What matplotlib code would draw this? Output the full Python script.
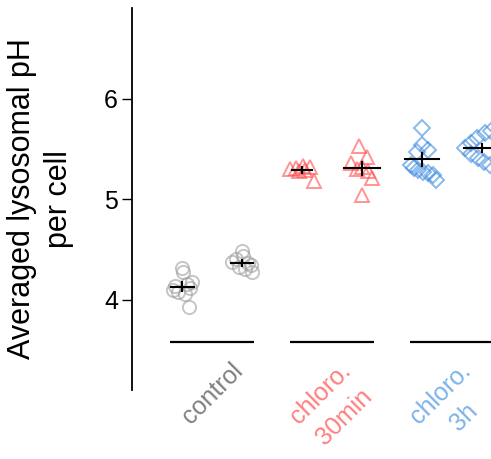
import numpy as np
import matplotlib
matplotlib.use("Agg")
import matplotlib.pyplot as plt

plt.rcParams['font.family'] = ['Liberation Sans', 'DejaVu Sans']

# group labels and colours
group_labels = ['control', 'chloro.\n30min', 'chloro.\n3h']
label_colors = ['#808080', '#ff7f7f', '#7fb3e8']
marker_colors = ['#a0a0a0', '#ff4d4d', '#3d8be0']
group_markers = ['o', '^', 'D']

# per-cell values (two replicates per group)
control_1 = [4.32, 4.28, 4.18, 4.16, 4.14, 4.12, 4.10, 4.08, 4.06, 3.93]
control_1_dx = [0.0, 0.02, 0.17, 0.08, -0.12, 0.13, -0.15, -0.07, 0.05, 0.12]
control_2 = [4.49, 4.44, 4.41, 4.38, 4.37, 4.35, 4.33, 4.31, 4.28]
control_2_dx = [0.0, 0.02, -0.1, -0.17, 0.1, 0.15, -0.05, 0.05, 0.17]
chloro30_1 = [5.33, 5.32, 5.31, 5.30, 5.29, 5.28, 5.18]
chloro30_1_dx = [0.02, 0.13, -0.1, -0.2, 0.05, -0.05, 0.2]
chloro30_2 = [5.53, 5.42, 5.36, 5.32, 5.30, 5.28, 5.21, 5.04]
chloro30_2_dx = [-0.05, 0.08, -0.18, 0.0, -0.08, 0.1, 0.17, 0.0]
chloro3h_1 = [5.71, 5.54, 5.47, 5.49, 5.34, 5.31, 5.29, 5.27, 5.26, 5.24, 5.19]
chloro3h_1_dx = [0.0, 0.0, -0.08, 0.1, -0.18, -0.13, -0.06, 0.02, 0.1, 0.18, 0.23]
chloro3h_2 = [5.68, 5.66, 5.61, 5.56, 5.51, 5.45, 5.41, 5.37, 5.34]
chloro3h_2_dx = [0.15, 0.05, -0.08, -0.18, -0.28, -0.18, -0.07, 0.03, 0.13]

series = [control_1, control_2, chloro30_1, chloro30_2, chloro3h_1, chloro3h_2]
series_dx = [control_1_dx, control_2_dx, chloro30_1_dx, chloro30_2_dx,
             chloro3h_1_dx, chloro3h_2_dx]

# mean and error bar
means = [4.13, 4.37, 5.29, 5.31, 5.40, 5.51]
errors = [0.045, 0.03, 0.03, 0.065, 0.065, 0.04]
mean_half_width = [0.19, 0.18, 0.16, 0.30, 0.29, 0.30]

baseline = 3.58

fig = plt.figure(figsize=(4.91, 4.59), dpi=100)
ax = fig.add_axes([0.2688, 0.1503, 0.7312, 0.8323])

for i, (vals, dx) in enumerate(zip(series, series_dx)):
    g = i // 2
    ax.plot(i + np.array(dx), vals, linestyle='none', marker=group_markers[g],
            markersize=9.5 if g < 2 else 8, markerfacecolor='none',
            markeredgecolor=marker_colors[g], markeredgewidth=1.4, alpha=0.6)
    ax.plot([i - mean_half_width[i], i + mean_half_width[i]], [means[i], means[i]],
            color='black', lw=1.5, zorder=5)
    ax.plot([i, i], [means[i] - errors[i], means[i] + errors[i]],
            color='black', lw=1.5, zorder=5)

# group underline
for g in range(3):
    c = 2 * g + 0.5
    ax.plot([c - 0.7, c + 0.7], [baseline, baseline], color='black', lw=1.6,
            solid_capstyle='butt')

ax.set_xlim(-0.836, 5.15)
ax.set_ylim(3.104, 6.905)
ax.set_yticks([4, 5, 6])
ax.tick_params(axis='y', labelsize=18, length=7, width=1, pad=3)

ax.set_xticks([0.5, 2.5, 4.5])
ax.set_xticklabels(group_labels, rotation=45, ha='center', fontsize=18,
                   linespacing=1.5)
ax.tick_params(axis='x', length=0, pad=-23)
for lbl, col in zip(ax.get_xticklabels(), label_colors):
    lbl.set_color(col)

for side in ['top', 'right', 'bottom']:
    ax.spines[side].set_visible(False)
ax.spines['left'].set_linewidth(1.3)

ax.set_ylabel('Averaged lysosomal pH\nper cell', fontsize=22, linespacing=1.3,
              labelpad=22)

fig.savefig('out.png', dpi=100)
